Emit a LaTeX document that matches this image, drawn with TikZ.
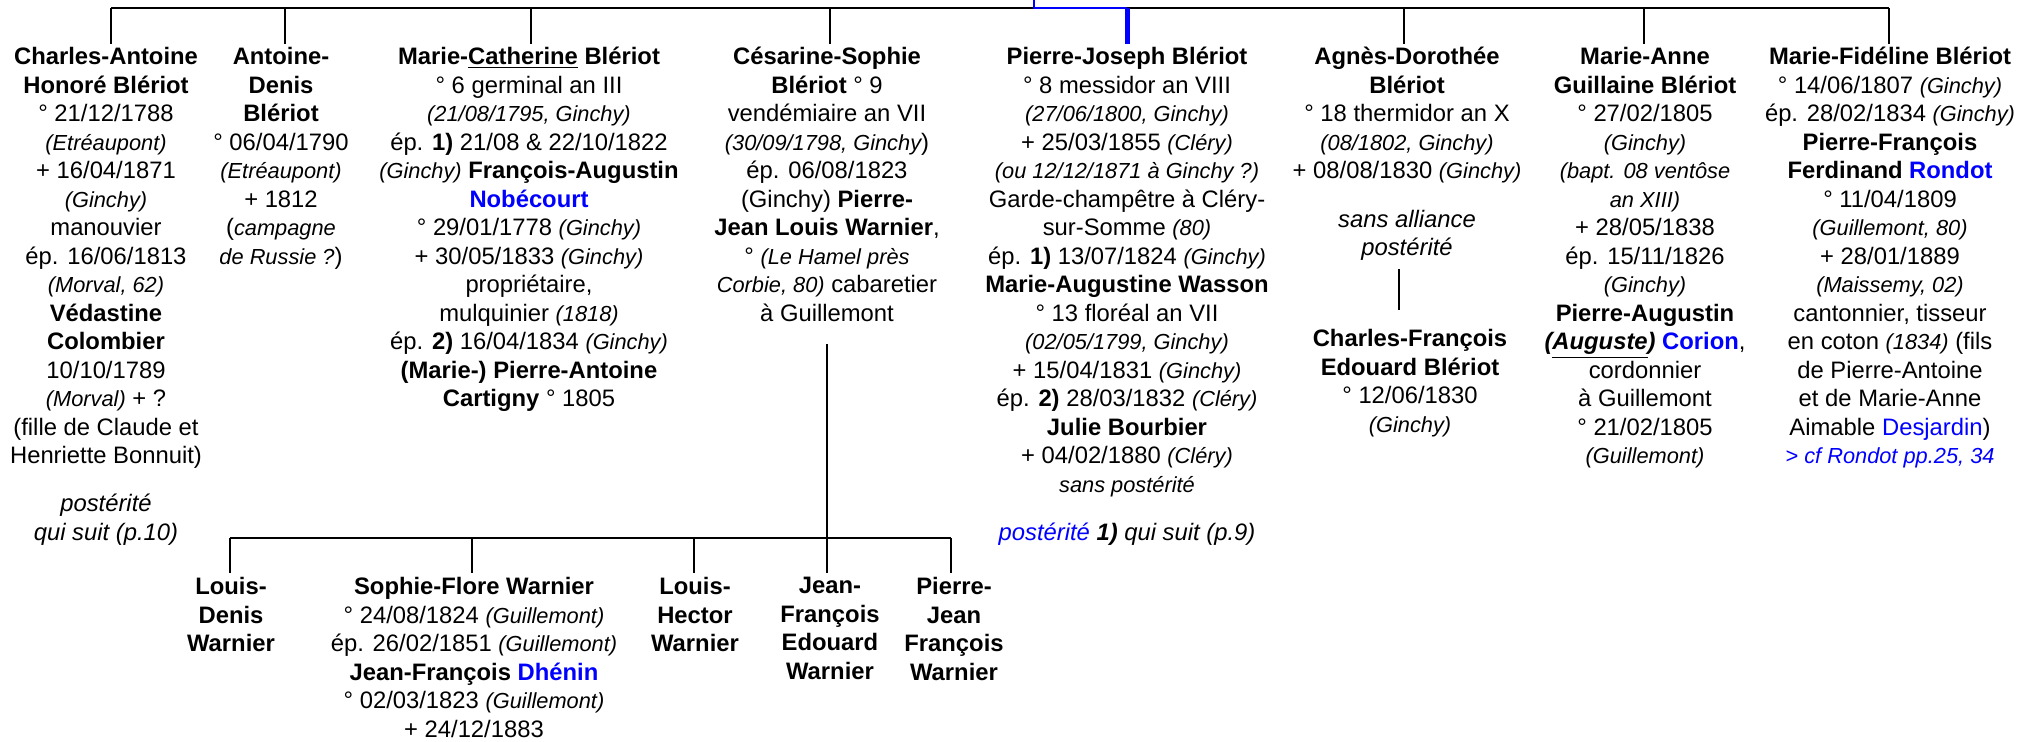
\documentclass[tikz,border=0pt]{standalone}
\usepackage{fontspec}
\setmainfont{Liberation Sans}
\usepackage{xcolor}
\definecolor{lien}{RGB}{0,0,255}
\newcommand{\lieu}[1]{{\fontsize{10.9}{14.25}\selectfont\itshape #1}}
\newcommand{\renvoi}[1]{\textcolor{lien}{#1}}

\begin{document}
\begin{tikzpicture}[x=0.5pt,y=-0.5pt,
		fiche/.style={align=center,anchor=north,inner sep=0pt,font=\fontsize{11.9}{14.25}\selectfont},
		trait/.style={line width=1.2pt},
		filiation/.style={draw=lien,line width=2.5pt}]
		
		\useasboundingbox (0,0) rectangle (2036,741);
		
		% Enfants Bleriot
		\node[fiche] (charles) at (106,47) {\textbf{Charles-Antoine}\\\textbf{Honoré Blériot}\\° 21/12/1788\\\lieu{(Etréaupont)}\\+ 16/04/1871\\\lieu{(Ginchy)}\\manouvier\\ép. 16/06/1813\\\lieu{(Morval, 62)}\\\textbf{Védastine}\\\textbf{Colombier}\\10/10/1789\\\lieu{(Morval)} + ?\\(fille de Claude et\\Henriette Bonnuit)\\[9.75pt]\textit{postérité}\\\textit{qui suit (p.10)}};
		\node[fiche] (antoine) at (281,47) {\textbf{Antoine-}\\\textbf{Denis}\\\textbf{Blériot}\\° 06/04/1790\\\lieu{(Etréaupont)}\\+ 1812\\(\lieu{campagne}\\\lieu{de Russie ?})};
		\node[fiche] (catherine) at (529,47) {\textbf{Marie-\underline{Catherine} Blériot}\\° 6 germinal an III\\\lieu{(21/08/1795, Ginchy)}\\ép. \textbf{1)} 21/08 \& 22/10/1822\\\lieu{(Ginchy)} \textbf{François-Augustin}\\\textbf{\renvoi{Nobécourt}}\\° 29/01/1778 \lieu{(Ginchy)}\\+ 30/05/1833 \lieu{(Ginchy)}\\propriétaire,\\mulquinier \lieu{(1818)}\\ép. \textbf{2)} 16/04/1834 \lieu{(Ginchy)}\\\textbf{(Marie-) Pierre-Antoine}\\\textbf{Cartigny} ° 1805};
		\node[fiche] (cesarine) at (827,47) {\textbf{Césarine-Sophie}\\\textbf{Blériot} ° 9\\vendémiaire an VII\\\lieu{(30/09/1798, Ginchy})\\ép. 06/08/1823\\(Ginchy) \textbf{Pierre-}\\\textbf{Jean Louis Warnier},\\° \lieu{(Le Hamel près}\\\lieu{Corbie, 80)} cabaretier\\à Guillemont};
		\node[fiche] (pierrejoseph) at (1127,47) {\textbf{Pierre-Joseph Blériot}\\° 8 messidor an VIII\\\lieu{(27/06/1800, Ginchy)}\\+ 25/03/1855 \lieu{(Cléry)}\\\lieu{(ou 12/12/1871 à Ginchy ?)}\\Garde-champêtre à Cléry-\\sur-Somme \lieu{(80)}\\ép. \textbf{1)} 13/07/1824 \lieu{(Ginchy)}\\\textbf{Marie-Augustine Wasson}\\° 13 floréal an VII\\\lieu{(02/05/1799, Ginchy)}\\+ 15/04/1831 \lieu{(Ginchy)}\\ép. \textbf{2)} 28/03/1832 \lieu{(Cléry)}\\\textbf{Julie Bourbier}\\+ 04/02/1880 \lieu{(Cléry)}\\\lieu{sans postérité}\\[10pt]\textit{\renvoi{postérité} \textbf{1)} qui suit (p.9)}};
		\node[fiche] (agnes) at (1407,47) {\textbf{Agnès-Dorothée}\\\textbf{Blériot}\\° 18 thermidor an X\\\lieu{(08/1802, Ginchy)}\\+ 08/08/1830 \lieu{(Ginchy)}\\[10pt]\textit{sans alliance}\\\textit{postérité}};
		\node[fiche] (edouard) at (1410,329) {\textbf{Charles-François}\\\textbf{Edouard Blériot}\\° 12/06/1830\\\lieu{(Ginchy)}};
		\node[fiche] (marieanne) at (1645,47) {\textbf{Marie-Anne}\\\textbf{Guillaine Blériot}\\° 27/02/1805\\\lieu{(Ginchy)}\\\lieu{(bapt. 08 ventôse}\\\lieu{an XIII)}\\+ 28/05/1838\\ép. 15/11/1826\\\lieu{(Ginchy)}\\\textbf{Pierre-Augustin}\\\textbf{\textit{(\underline{Auguste})} \renvoi{Corion}},\\cordonnier\\à Guillemont\\° 21/02/1805\\\lieu{(Guillemont)}};
		\node[fiche] (fideline) at (1890,47) {\textbf{Marie-Fidéline Blériot}\\° 14/06/1807 \lieu{(Ginchy)}\\ép. 28/02/1834 \lieu{(Ginchy)}\\\textbf{Pierre-François}\\\textbf{Ferdinand \renvoi{Rondot}}\\° 11/04/1809\\\lieu{(Guillemont, 80)}\\+ 28/01/1889\\\lieu{(Maissemy, 02)}\\cantonnier, tisseur\\en coton \lieu{(1834)} (fils\\de Pierre-Antoine\\et de Marie-Anne\\Aimable \renvoi{Desjardin})\\\lieu{\renvoi{> cf Rondot pp.25, 34}}};
		
		% Enfants Warnier
		\node[fiche] (louisdenis) at (231,577) {\textbf{Louis-}\\\textbf{Denis}\\\textbf{Warnier}};
		\node[fiche] (sophie) at (474,577) {\textbf{Sophie-Flore Warnier}\\° 24/08/1824 \lieu{(Guillemont)}\\ép. 26/02/1851 \lieu{(Guillemont)}\\\textbf{Jean-François \renvoi{Dhénin}}\\° 02/03/1823 \lieu{(Guillemont)}\\+ 24/12/1883};
		\node[fiche] (louishector) at (695,577) {\textbf{Louis-}\\\textbf{Hector}\\\textbf{Warnier}};
		\node[fiche] (jeanfrancois) at (830,577) {\textbf{Jean-}\\\textbf{François}\\\textbf{Edouard}\\\textbf{Warnier}};
		\node[fiche] (pierrejean) at (954,577) {\textbf{Pierre-}\\\textbf{Jean}\\\textbf{François}\\\textbf{Warnier}};
		
		% accolade du haut
		\coordinate (haut) at (1034,0);
		\foreach \n/\x in {1/111,2/285,3/531,4/830,5/1127,6/1404,7/1644,8/1889}
		\coordinate (t\n) at (\x,8);
		\draw[trait] (t1) -- (t8);
		\foreach \n/\f in {1/charles,2/antoine,3/catherine,4/cesarine,6/agnes,7/marieanne,8/fideline}
		\draw[trait,shorten >=1.5pt] (t\n) -- (t\n |- \f.north);
		
		% lignee suivie en bleu
		\draw[lien,line width=1pt] (haut) |- (t5);
		\draw[filiation,shorten >=1.5pt] (t5) -- (t5 |- pierrejoseph.north);
		
		% fils naturel
		\draw[trait,shorten <=4pt,shorten >=9.5pt] ([xshift=-4pt]agnes.south) -- ([xshift=-4pt]agnes.south |- edouard.north);
		
		% accolade Warnier
		\foreach \n/\x in {1/230,2/472,3/694,4/827,5/951}
		\coordinate (w\n) at (\x,538);
		\draw[trait] (w1) -- (w5);
		\draw[trait,shorten <=11pt] (cesarine.south) -- (w4);
		\foreach \n/\f in {1/louisdenis,2/sophie,3/louishector,4/jeanfrancois,5/pierrejean}
		\draw[trait,shorten >=2pt] (w\n) -- (w\n |- \f.north);
		
	\end{tikzpicture}
\end{document}
